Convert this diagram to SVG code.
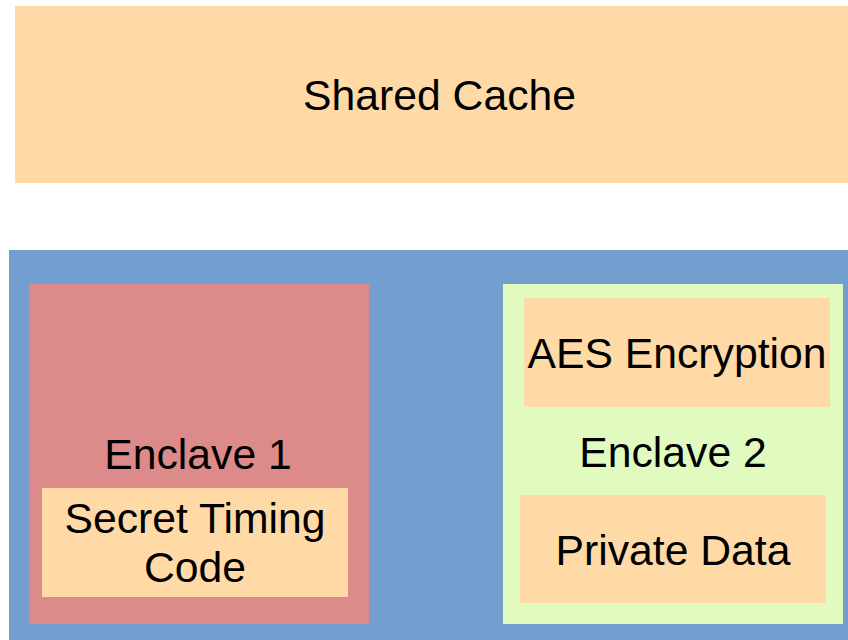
<svg xmlns="http://www.w3.org/2000/svg" width="848" height="640" viewBox="0 0 848 640">
<style>
text{font-family:"Liberation Sans",Arial,sans-serif;font-size:42.7px;fill:#000;text-anchor:middle}
.peach{fill:#FFDAA6}
</style>
<rect width="848" height="640" fill="#fff"/>
<g id="shared-cache">
<rect class="peach" x="15" y="6" width="840" height="177"/>
<text x="439.5" y="110">Shared Cache</text>
</g>
<g id="platform">
<rect x="9" y="250" width="845" height="395" fill="#729FCF"/>
</g>
<g id="enclave1">
<rect x="29" y="284" width="340" height="340" fill="#DC8A8A"/>
<text x="198" y="469">Enclave 1</text>
</g>
<g id="secret-timing-code">
<rect class="peach" x="42" y="488" width="306" height="109"/>
<text x="195" y="533">Secret Timing</text>
<text x="195" y="582">Code</text>
</g>
<g id="enclave2">
<rect x="503" y="284" width="340" height="340" fill="#E0FAC0"/>
<text x="673" y="467">Enclave 2</text>
</g>
<g id="aes-encryption">
<rect class="peach" x="524" y="298" width="306" height="109"/>
<text x="677" y="368">AES Encryption</text>
</g>
<g id="private-data">
<rect class="peach" x="520" y="495" width="306" height="108"/>
<text x="673" y="565">Private Data</text>
</g>
<g id="connectors"/>
</svg>
